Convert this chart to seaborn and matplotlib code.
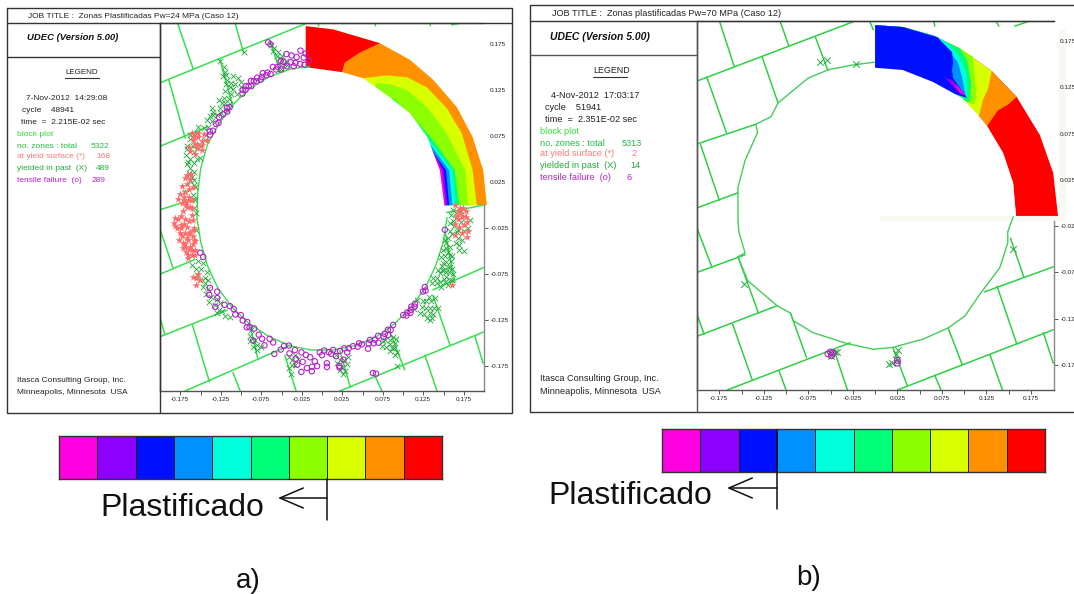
import numpy as np
import seaborn as sns
import matplotlib.pyplot as plt
from matplotlib.colors import ListedColormap

sns.set_theme(style="white")
plt.rcParams['font.family'] = ['Liberation Sans', 'DejaVu Sans']

W, H = 1074, 594

TICKS = [-0.175, -0.125, -0.075, -0.025, 0.025, 0.075, 0.125, 0.175]
MINOR_TICKS = [-0.15, -0.1, -0.05, 0.0, 0.05, 0.1, 0.15]
BAR_COLORS = ['#ff00e0', '#8c00ff', '#0010ff', '#0090ff', '#00ffdc',
              '#00ff78', '#8cff00', '#d8ff00', '#ff9000', '#ff0000']

# x0, y0, x1, y1 de cada junta (metros)
JOINTS_A = [
    (-.200, .133, -.021, .197), (-.200, .064, -.142, .085), (-.200, -.005, -.154, .008),
    (-.200, -.075, -.157, -.059), (-.200, -.143, -.117, -.114), (-.169, -.202, -.039, -.152),
    (.022, -.202, .199, -.138), (.137, -.092, .199, -.068), (.154, -.008, .199, .000),
    (-.178, .197, -.159, .148), (-.107, .197, -.097, .166), (-.189, .136, -.169, .073),
    (-.126, .158, -.110, .107), (-.064, .179, -.052, .145), (-.200, -.026, -.184, -.068),
    (-.160, -.130, -.139, -.192), (-.200, -.122, -.194, -.141), (-.110, -.182, -.101, -.202),
    (-.089, -.130, -.079, -.168), (-.046, -.163, -.032, -.202), (.022, -.158, .035, -.198),
    (.065, -.185, .074, -.202), (.084, -.138, .102, -.179), (.127, -.163, .142, -.202),
    (.137, -.098, .158, -.152), (.189, -.143, .199, -.172), (.152, -.030, .164, -.084),
    (-.005, .198, -.004, .195), (.065, .198, .066, .195), (.133, .198, .134, .195), (.160, .196, .172, .198),
]
JOINTS_B = [
    (-.199, .132, -.021, .197), (-.199, .064, -.134, .085), (-.199, -.005, -.154, .011),
    (-.175, .197, -.158, .147), (-.107, .197, -.097, .170), (-.189, .136, -.167, .076),
    (-.127, .158, -.109, .108), (-.067, .179, -.053, .143), (-.196, .063, -.175, .003),
    (-.200, -.075, -.146, -.056), (-.200, -.144, -.110, -.111), (-.166, -.202, -.028, -.151),
    (.025, -.202, .200, -.137), (.123, -.096, .200, -.069), (-.200, -.027, -.183, -.070),
    (-.154, -.058, -.131, -.119), (-.200, -.120, -.192, -.142), (-.160, -.131, -.138, -.191),
    (-.108, -.181, -.100, -.202), (-.095, -.119, -.077, -.167), (-.045, -.162, -.031, -.202),
    (.020, -.156, .036, -.197), (.067, -.186, .074, -.202), (.082, -.135, .098, -.175),
    (.129, -.164, .143, -.202), (.137, -.090, .159, -.152), (.189, -.140, .200, -.173),
    (.152, -.038, .167, -.080), (.066, .196, .067, .191), (.136, .196, .139, .191),
    (.157, .191, .172, .196), (-.006, .196, -.002, .187),
]

# contorno do furo
HOLE_A_DEG = [96, 105, 115, 125, 135, 145, 155, 165, 175, 185, 195, 205, 215, 225, 235, 245,
              255, 265, 275, 285, 295, 305, 315, 325, 335, 345, 355]
HOLE_A_R = [.152, .153, .154, .155, .155, .155, .156, .155, .154, .155, .155, .156, .157, .157,
            .157, .157, .158, .158, .158, .158, .158, .157, .156, .156, .155, .155, .155]
HOLE_B_X = [-.001, -.025, -.052, -.075, -.109, -.117, -.134, -.132, -.146, -.154, -.154, -.153,
            -.146, -.154, -.143, -.110, -.095, -.092, -.070, -.031, -.002, .020, .054, .082,
            .101, .118, .140, .149, .149, .155]
HOLE_B_Y = [.152, .149, .144, .135, .108, .093, .085, .076, .046, .017, -.018, -.031,
            -.054, -.058, -.084, -.111, -.119, -.127, -.140, -.152, -.158, -.156, -.147, -.135,
            -.122, -.098, -.070, -.043, -.031, -.015]

# zonas do caso a, angulo (graus) e raio (m)
TENSILE_A_DEG = [96, 97, 98, 98, 99, 100, 101, 102, 103, 103, 104, 105, 106, 107, 108, 109, 110, 111, 112,
                 114, 115, 116, 117, 118, 119, 120, 121, 122, 123, 124, 125, 126, 127, 128, 129,
                 137, 138, 139, 141, 143, 145, 146, 149, 150, 151, 110.6, 110,
                 199, 201, 213, 215, 216, 218, 220, 222, 224, 226, 228, 230, 232, 234, 235, 236,
                 238, 240, 241, 243, 245, 246, 248, 250, 252, 253, 255, 256, 258, 259, 260, 261,
                 262, 263, 264, 265, 266, 267, 268, 269, 270, 271, 272, 273, 274, 275, 276, 277,
                 278, 279, 280, 281, 282, 284, 286, 287, 288, 290, 291, 292, 293, 294, 295, 296,
                 298, 299, 300, 301, 302, 304, 310, 311, 312, 313, 314, 315, 316, 317, 323, 324,
                 325, 350, 272, 277, 289, 290, 262, 266]
TENSILE_A_R = [.158, .166, .154, .162, .170, .156, .164, .158, .167, .155, .160, .170, .157, .163, .165, .156, .160, .158, .162,
               .156, .159, .157, .161, .158, .156, .160, .157, .159, .161, .156, .158, .160, .157, .159, .156,
               .156, .158, .155, .157, .159, .156, .158, .157, .160, .158, .189, .186,
               .159, .157, .165, .170, .160, .164, .172, .162, .158, .157, .160, .156, .159, .157, .162, .160,
               .158, .170, .161, .163, .168, .159, .161, .172, .165, .160, .158, .166, .161, .170, .176, .162,
               .172, .164, .178, .166, .181, .170, .175, .160, .163, .158, .176, .160, .162, .158, .165, .178,
               .160, .170, .158, .163, .159, .158, .160, .157, .159, .166, .161, .158, .163, .160, .165, .158,
               .162, .160, .163, .158, .160, .157, .156, .159, .157, .160, .158, .156, .159, .157, .156, .158,
               .155, .154, .172, .176, .193, .195, .183, .176]
YIELDED_A_DEG = [110, 110, 109, 108, 109, 107, 108, 106, 120, 129, 129.6, 130.7, 131.5, 136, 127, 136, 131, 127, 131,
                 143, 140, 145, 143, 138, 138.5, 138, 159, 161, 166, 153, 149, 169, 162, 157.5, 155, 154,
                 164, 158, 172, 175, 202, 206, 208.5, 210.5, 204, 201.6, 208.6, 211,
                 216, 219.5, 223, 221.7, 227, 237, 243, 240.5, 242, 257.5, 259, 258.3, 258.5,
                 277.5, 278, 278, 276, 280, 300, 299, 299, 298, 297, 300, 301.5,
                 318, 318.7, 322, 321, 316, 318, 318.6, 323, 316.6,
                 330, 337, 342, 335, 333, 334.6, 332.7, 329, 331, 340, 336.5, 336.7, 334.4, 342, 346,
                 350, 347.7, 353, 355, 351, 345.6, 349, 344, 341, 355, 358,
                 150, 151, 152, 154, 156, 157, 158, 160, 160, 162, 163, 164, 165, 167, 168, 170, 171, 173, 176, 178, 181, 183, 190,
                 128, 129, 130, 131, 132, 133, 134, 135, 129, 130, 137, 128,
                 141, 142, 144, 146, 147, 109, 107, 106, 109,
                 203, 205, 207, 210, 213, 214, 217, 218, 220, 222, 225, 238, 239, 241, 244,
                 256, 258, 260, 257, 276, 279, 279, 281, 277,
                 298, 298, 299, 300, 301, 302, 297, 296,
                 315, 317, 319, 320, 320, 322, 319, 317, 324, 321,
                 328, 330, 331, 332, 333, 334, 335, 336, 337, 338, 339, 339, 341, 343, 344, 345, 347, 331, 329, 333, 335,
                 348, 350, 351, 352, 352, 354, 354, 356, 356, 357, 358, 346, 344]
YIELDED_A_R = [.185, .178, .172, .168, .163, .160, .175, .158, .192, .201, .188, .179, .171, .158, .173, .168, .167, .167, .186,
               .168, .165, .169, .162, .166, .156, .171, .178, .159, .168, .173, .164, .163, .177, .170, .180, .161,
               .172, .165, .160, .170, .173, .172, .171, .167, .170, .165, .165, .172,
               .169, .171, .169, .171, .166, .162, .177, .169, .172, .172, .177, .187, .166,
               .170, .178, .185, .164, .175, .169, .177, .186, .198, .173, .179, .168,
               .166, .177, .181, .165, .168, .183, .156, .166, .178,
               .158, .162, .157, .178, .163, .170, .178, .165, .173, .162, .169, .175, .164, .163, .157,
               .169, .177, .159, .183, .178, .175, .163, .182, .170, .166, .172,
               .168, .175, .162, .176, .178, .164, .172, .168, .178, .162, .170, .165, .172, .162, .168, .160, .165, .158, .160, .157, .158, .156, .158,
               .178, .170, .174, .160, .177, .165, .172, .163, .193, .184, .163, .163,
               .160, .172, .166, .164, .170, .181, .170, .163, .157,
               .160, .165, .160, .162, .168, .173, .175, .165, .165, .175, .170, .168, .172, .176, .172,
               .170, .178, .170, .182, .172, .170, .183, .168, .180,
               .166, .180, .172, .184, .175, .172, .166, .170,
               .160, .173, .170, .174, .162, .170, .181, .183, .172, .178,
               .160, .168, .163, .170, .172, .160, .166, .162, .172, .165, .170, .158, .167, .160, .165, .158, .160, .178, .172, .180, .173,
               .172, .160, .170, .165, .182, .162, .172, .160, .176, .166, .162, .170, .176]
SURFACE_A_DEG = [156, 156.5, 156, 153.5, 160, 160.4, 154, 155, 170, 173, 177, 178.3, 178, 180.7, 179.3, 180,
                 184.4, 184, 180.7, 187, 186.7, 185.8, 189.6, 189.8, 192, 193.4, 193.5, 195.7, 196.8,
                 198.7, 197.3, 199.3, 191, 188, 195, 206, 208.5,
                 356, 359, 355.7, 354, 351, 360, 348.7, 357, 331.5, 359,
                 168, 169, 170, 172, 173, 174, 175, 176, 177, 178, 178, 179, 181, 182,
                 185, 185, 186, 187, 188, 188, 189, 190, 190, 191, 192, 192, 193, 194, 194, 195, 195, 196, 197, 198, 199, 186, 184,
                 152, 153, 154, 155, 157, 158, 159, 158,
                 352, 353, 355, 356, 358, 358, 350, 349, 353, 206, 207, 209]
SURFACE_A_R = [.175, .168, .162, .159, .173, .167, .178, .164, .166, .161, .165, .171, .160, .163, .173, .168,
               .182, .161, .167, .183, .172, .160, .162, .178, .170, .163, .176, .169, .176,
               .169, .164, .175, .167, .176, .175, .177, .171,
               .167, .174, .173, .180, .182, .164, .167, .170, .182, .170,
               .165, .170, .172, .168, .174, .165, .170, .176, .170, .163, .178, .168, .160, .172,
               .170, .178, .165, .176, .168, .181, .160, .172, .166, .176, .163, .180, .170, .161, .174, .165, .178, .171, .168, .174, .166, .184, .175,
               .165, .172, .170, .175, .171, .166, .176, .160,
               .171, .177, .168, .178, .168, .178, .175, .182, .166, .170, .175, .178]

# zonas do caso b (metros)
YIELDED_B_X = [-.062, -.054, -.022, -.147, .155, -.051, -.043, .019, .024, .025, -.045, .026, .016, -.050]
YIELDED_B_Y = [.152, .154, .150, -.088, -.050, -.162, -.161, -.173, -.163, -.170, -.161, -.159, -.174, -.165]
TENSILE_B_X = [-.050, -.049, -.053, -.047, .025, .025]
TENSILE_B_Y = [-.161, -.165, -.163, -.162, -.170, -.173]

# anel colorido, caso a
OUTER_A_X = [.2035, .199, .186, .1665, .137, .1085, .0715, .0136, -.02]
OUTER_A_Y = [0, .038, .074, .1065, .1365, .158, .176, .191, .1945]
INNER_A_X = [.151, .1455, .130, .1085, .080, .0506, .0247, -.02]
INNER_A_Y = [0, .038, .074, .100, .1196, .138, .1446, .150]
RED_A_X = [-.02, .0136, .0715, .047, .028, .0247]
RED_A_Y = [.1945, .191, .176, .166, .155, .1446]
YELLOW_A_X = [.191, .186, .1726, .154, .1295, .105, .080, .0506]
YELLOW_A_Y = [0, .038, .078, .1054, .128, .139, .141, .138]
LIME_A_X = [.1805, .177, .154, .1295, .105, .084, .068]
LIME_A_Y = [0, .038, .078, .1065, .125, .1315, .1326]
SPRING_A_X = [.1695, .164, .137, .112, .0875]
SPRING_A_Y = [0, .038, .0707, .0957, .116]
CYAN_A_X = [.1655, .161, .1295, .100]
CYAN_A_Y = [0, .038, .074, .1065]
AZURE_A_X = [.161, .157, .123, .100]
AZURE_A_Y = [0, .038, .078, .102]
BLUE_A_X = [.157, .153, .1235]
BLUE_A_Y = [0, .038, .074]
PURPLE_A_X = [.155, .1505, .1295]
PURPLE_A_Y = [0, .038, .070]
MAGENTA_A_X = [.153, .148, .133]
MAGENTA_A_Y = [0, .038, .065]

# anel colorido, caso b
OUTER_B_X = [.2054, .200, .185, .159, .131, .095, .065, .031, 0]
OUTER_B_Y = [-.014, .0324, .0734, .1145, .1425, .167, .181, .190, .192]
INNER_B_X = [.1582, .155, .1437, .1257, .1156, .0976, .065, .031, 0]
INNER_B_Y = [-.014, .0216, .054, .083, .095, .1134, .1307, .1436, .146]
ORANGE_B_X = [.1257, .138, .149, .159, .131, .095, .065, .031, 0]
ORANGE_B_Y = [.083, .100, .106, .1145, .1425, .167, .181, .190, .192]
YELLOW_B_X = [.1167, .121, .127, .131, .095, .065, .031, 0]
YELLOW_B_Y = [.094, .111, .124, .1425, .167, .181, .190, .192]
LIME_B_X = [.111, .114, .112, .110, .095, .065, .031, 0]
LIME_B_Y = [.106, .1145, .136, .1577, .167, .181, .190, .192]
SPRING_B_X = [.1066, .1077, .1033, .095, .065, .031, 0]
SPRING_B_Y = [.109, .1296, .1544, .167, .181, .190, .192]
CYAN_B_X = [.103, .103, .095, .082, .065, .031, 0]
CYAN_B_Y = [.1134, .138, .1577, .1728, .181, .190, .192]
AZURE_B_X = [.102, .0976, .093, .0707, .031, 0]
AZURE_B_Y = [.1145, .136, .152, .179, .190, .192]
BLUE_B_X = [.103, .0875, .0864, .0875, .0864, .0696, .031, 0]
BLUE_B_Y = [.1134, .135, .1436, .152, .163, .179, .190, .192]
POCKET_B_X = [.0786, .0864, .103, .095]
POCKET_B_Y = [.135, .133, .1145, .118]
CORE_B_X = [.0875, .093, .101, .0954]
CORE_B_Y = [.1296, .1263, .1166, .1188]

LEGEND_A = ['7-Nov-2012  14:29:08', 'cycle    48941', 'time  =  2.215E-02 sec']
LEGEND_B = ['4-Nov-2012  17:03:17', 'cycle    51941', 'time  =  2.351E-02 sec']
COUNTS_A = ['5322', '168', '489', '289']
COUNTS_B = ['5313', '2', '14', '6']
COUNT_LABELS = ['no. zones : total', 'at yield surface (*)', 'yielded in past  (X)', 'tensile failure  (o)']
COUNT_COLORS = ['#22bb44', '#ff7878', '#22aa3a', '#b822cc']


def box(left, top, right, bottom):
    return [left / W, 1 - bottom / H, (right - left) / W, (bottom - top) / H]


def polar(deg, radius):
    rad = np.radians(deg)
    return np.array(radius) * np.cos(rad), np.array(radius) * np.sin(rad)


def draw_joints(ax, joints, color):
    for x0, y0, x1, y1 in joints:
        sns.lineplot(x=[x0, x1], y=[y0, y1], sort=False, estimator=None, color=color, lw=1.1, ax=ax)


def style_axes(ax, xlim, ylim):
    ax.set_xlim(*xlim)
    ax.set_ylim(*ylim)
    ax.yaxis.tick_right()
    ax.set_xticks(TICKS)
    ax.set_yticks(TICKS)
    ax.set_xticks(MINOR_TICKS, minor=True)
    ax.set_yticks(MINOR_TICKS, minor=True)
    ax.set_xticklabels([f'{t:.3f}' for t in TICKS])
    ax.set_yticklabels([f'{t:.3f}' for t in TICKS])
    ax.tick_params(which='both', bottom=True, right=True, length=3, width=0.7, color='#555555',
                   labelsize=4.6, labelcolor='#222222', pad=1.5)
    for t in ax.yaxis.get_major_ticks() + ax.yaxis.get_minor_ticks():
        if t.get_loc() > -0.01:
            t.tick2line.set_visible(False)
    for side, color in zip(['top', 'right', 'bottom', 'left'], ['#777777', '#888888', '#555555', '#444444']):
        ax.spines[side].set_color(color)
        ax.spines[side].set_linewidth(1)
    ax.set_xlabel('')
    ax.set_ylabel('')


def draw_panel_text(ov, title, title_x, dy, dx, stamp, stamp_x, counts, count_right, size, udec_size, legend_x):
    ov.text(title_x, 17 + dy, title, fontsize=size, va='center', color='#222222')
    ov.text(27 + dx, 38 + dy * 0.5, 'UDEC (Version 5.00)', fontsize=udec_size, weight='bold', style='italic', va='center', color='#111111')
    ov.text(legend_x, 73 + dy * 0.7, 'LEGEND', fontsize=size - 0.2, va='center', color='#222222')
    ov.plot([legend_x, legend_x + 34], [78 + dy * 0.5] * 2, color='#333333', lw=0.8)
    for label, x, y in zip(stamp, stamp_x, [99, 110, 122]):
        ov.text(x + dx, y + dy, label, fontsize=size, va='center', color='#222222')
    ov.text(17 + dx, 134 + dy, 'block plot', fontsize=size, va='center', color='#33dd33')
    for label, count, color, right, y in zip(COUNT_LABELS, counts, COUNT_COLORS, count_right, [146, 157, 169, 181]):
        ov.text(17 + dx, y + dy, label, fontsize=size, va='center', color=color)
        ov.text(right + dx, y + dy, count, fontsize=size, va='center', ha='right', color=color)
    ov.text(17 + dx, 380 + dy * 0.4, 'Itasca Consulting Group, Inc.', fontsize=size, va='center', color='#222222')
    ov.text(17 + dx, 393 + dy * 0.6, 'Minneapolis, Minnesota  USA', fontsize=size, va='center', color='#222222')


def draw_bar(fig, left, top):
    cax = fig.add_axes(box(left, top, left + 383, top + 43))
    sns.heatmap(np.arange(10).reshape(1, 10), cmap=ListedColormap(BAR_COLORS), cbar=False,
                linewidths=0.6, linecolor='#222222', xticklabels=False, yticklabels=False, ax=cax)
    for spine in cax.spines.values():
        spine.set_visible(True)
        spine.set_color('#333333')
        spine.set_linewidth(1)


def main():
    fig = plt.figure(figsize=(W / 100, H / 100), dpi=100)

    # caso a
    ax_a = fig.add_axes(box(160, 23, 484, 391))
    ax_a.fill(OUTER_A_X + [-.02], OUTER_A_Y + [0], color='#ff9000', lw=0, clip_on=False)
    ax_a.fill(RED_A_X + [-.02], RED_A_Y + [0], color='#ff0000', lw=0)
    for xs, ys, color in [(YELLOW_A_X, YELLOW_A_Y, '#d8ff00'), (LIME_A_X, LIME_A_Y, '#8cff00'),
                          (SPRING_A_X, SPRING_A_Y, '#00ff78'), (CYAN_A_X, CYAN_A_Y, '#00ffdc'),
                          (AZURE_A_X, AZURE_A_Y, '#0090ff'), (BLUE_A_X, BLUE_A_Y, '#0010ff'),
                          (PURPLE_A_X, PURPLE_A_Y, '#8c00ff'), (MAGENTA_A_X, MAGENTA_A_Y, '#ff00e0')]:
        ax_a.fill(xs + [-.02], ys + [0], color=color, lw=0)
    ax_a.fill(INNER_A_X + [-.023, -.023, .151], INNER_A_Y + [.150, -.002, -.002], color='white', lw=0)
    draw_joints(ax_a, JOINTS_A, '#35e04e')
    hx, hy = polar(HOLE_A_DEG, HOLE_A_R)
    sns.lineplot(x=hx, y=hy, sort=False, estimator=None, color='#35e04e', lw=1.0, ax=ax_a)
    yx, yy = polar(YIELDED_A_DEG, YIELDED_A_R)
    sns.scatterplot(x=yx, y=yy, marker='x', s=16, color='#22a83a', linewidth=0.6, ax=ax_a, zorder=3)
    sx, sy = polar(SURFACE_A_DEG, SURFACE_A_R)
    sns.scatterplot(x=sx, y=sy, marker='*', s=34, color='#ff6a6a', linewidth=0, ax=ax_a, zorder=4)
    tx, ty = polar(TENSILE_A_DEG, TENSILE_A_R)
    sns.scatterplot(x=tx, y=ty, marker='o', s=15, facecolor='none', edgecolor='#b422c8', linewidth=0.8, ax=ax_a, zorder=5)
    style_axes(ax_a, (-.2, .2), (-.202, .198))
    ax_a.spines['right'].set_bounds(-.202, 0)

    # caso b
    ax_b = fig.add_axes(box(697, 21, 1054, 390))
    ax_b.fill_between([.2065, .2144], -.014, .1868, color='#f8f8f3', lw=0, clip_on=False, zorder=0.5)
    ax_b.fill_between([.0056, .2132], -.0194, -.014, color='#f8f8f3', lw=0, clip_on=False, zorder=0.5)
    ax_b.fill(OUTER_B_X + INNER_B_X[::-1], OUTER_B_Y + INNER_B_Y[::-1], color='#ff0000', lw=0, clip_on=False)
    for xs, ys, color in [(ORANGE_B_X, ORANGE_B_Y, '#ff9000'), (YELLOW_B_X, YELLOW_B_Y, '#d8ff00'),
                          (LIME_B_X, LIME_B_Y, '#8cff00'), (SPRING_B_X, SPRING_B_Y, '#00ff78'),
                          (CYAN_B_X, CYAN_B_Y, '#00ffdc'), (AZURE_B_X, AZURE_B_Y, '#0090ff'),
                          (BLUE_B_X, BLUE_B_Y, '#0010ff')]:
        ax_b.fill(xs + [0], ys + [.146], color=color, lw=0)
    ax_b.fill(INNER_B_X + [-.002, -.002, .1582], INNER_B_Y + [.146, -.0142, -.0142], color='white', lw=0)
    ax_b.fill(POCKET_B_X, POCKET_B_Y, color='#8c00ff', lw=0)
    ax_b.fill(CORE_B_X, CORE_B_Y, color='#ff00e0', lw=0)
    draw_joints(ax_b, JOINTS_B, '#2fcf45')
    sns.lineplot(x=HOLE_B_X, y=HOLE_B_Y, sort=False, estimator=None, color='#45cc5a', lw=1.0, ax=ax_b)
    sns.scatterplot(x=YIELDED_B_X, y=YIELDED_B_Y, marker='x', s=22, color='#22a83a', linewidth=0.7, ax=ax_b, zorder=3)
    sns.scatterplot(x=TENSILE_B_X, y=TENSILE_B_Y, marker='o', s=18, facecolor='none', edgecolor='#b422c8', linewidth=0.8, ax=ax_b, zorder=5)
    style_axes(ax_b, (-.2, .2009), (-.202, .1965))
    ax_b.spines['right'].set_bounds(-.202, -.019)

    draw_bar(fig, 59, 436)
    draw_bar(fig, 662, 429)

    # molduras e textos, em pixels da figura
    ov = fig.add_axes([0, 0, 1, 1], zorder=10)
    ov.set_xlim(0, W)
    ov.set_ylim(H, 0)
    ov.axis('off')
    ov.patch.set_alpha(0)
    frame = '#333333'
    ov.plot([7, 512, 512, 7, 7], [8, 8, 413, 413, 8], color=frame, lw=1)
    ov.plot([7, 512], [23, 23], color=frame, lw=1)
    ov.plot([7, 160], [57, 57], color=frame, lw=1)
    ov.plot([160, 160], [23, 413], color=frame, lw=1)
    ov.plot([1074, 530, 530, 1074], [5, 5, 412, 412], color=frame, lw=1)
    ov.plot([530, 1054], [21, 21], color=frame, lw=1)
    ov.plot([530, 697], [55, 55], color='#555555', lw=1)
    ov.plot([697, 697], [21, 412], color='#555555', lw=1)

    draw_panel_text(ov, 'JOB TITLE :  Zonas Plastificadas Pw=24 MPa (Caso 12)', 28, 0, 0,
                    LEGEND_A, [26, 22, 21], COUNTS_A, [109, 110, 110, 105], 6.0, 6.8, 65)
    draw_panel_text(ov, 'JOB TITLE :  Zonas plastificadas Pw=70 MPa (Caso 12)', 552, -3, 523,
                    LEGEND_B, [28, 22, 22], COUNTS_B, [119, 114, 117, 109], 6.6, 7.5, 593)

    # setas do limite plastificado
    for x_line, y_top, y_bottom, y_arrow, x_tip, x_text, y_text, label_name, x_name, y_name in [
        (327, 479, 520, 498, 278, 100, 516, 'a)', 236, 588),
        (777, 430, 509, 488, 727, 548, 504, 'b)', 796, 585),
    ]:
        ov.plot([x_line, x_line], [y_top, y_bottom], color='#111111', lw=1.1)
        ov.annotate('', xy=(x_tip, y_arrow), xytext=(x_line, y_arrow),
                    arrowprops=dict(arrowstyle='->,head_length=1.4,head_width=0.6', color='#111111', lw=1.1, shrinkA=0, shrinkB=0))
        ov.text(x_text, y_text, 'Plastificado', fontsize=23, va='baseline', color='#111111')
        ov.text(x_name, y_name, label_name, fontsize=20, va='baseline', color='#111111')

    fig.savefig('out.png', dpi=100)


if __name__ == "__main__":
    main()
